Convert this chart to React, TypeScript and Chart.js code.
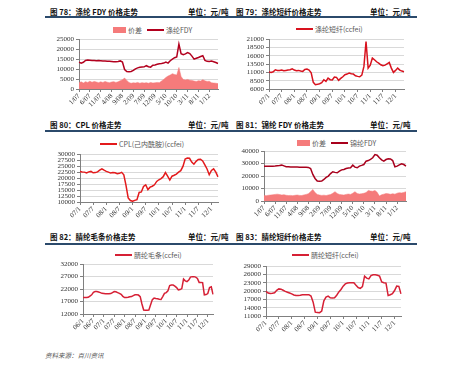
import React, { useEffect, useRef } from "react";
import { Chart, registerables } from "chart.js";

Chart.register(...registerables);

// ---------- category helpers (month labels) ----------
function monthsMY(startYear: number, count: number): string[] {
  const out: string[] = [];
  for (let i = 0; i < count; i++) {
    const y = startYear + Math.floor(i / 12);
    const m = (i % 12) + 1;
    out.push(`${m}/${String(y % 100).padStart(2, "0")}`);
  }
  return out;
}
function monthsYM(startYear: number, count: number): string[] {
  const out: string[] = [];
  for (let i = 0; i < count; i++) {
    const y = startYear + Math.floor(i / 12);
    const m = (i % 12) + 1;
    out.push(`${String(y % 100).padStart(2, "0")}/${m}`);
  }
  return out;
}

// ---------- tick labels shown ----------
const FDY_TICKS = ["1/07", "6/07", "11/07", "4/08", "9/08", "2/09", "7/09", "12/09", "5/10", "10/10", "3/11", "8/11", "1/12"];
const YM_TICKS = ["07/1", "07/7", "08/1", "08/7", "09/1", "09/7", "10/1", "10/7", "11/1", "11/7", "12/1"];
const WOOL_TICKS = ["06/1", "06/7", "07/1", "07/7", "08/1", "08/7", "09/1", "09/7", "10/1", "10/7", "11/1", "11/7", "12/1"];

// ---------- categories ----------
const CAT_FDY = monthsMY(2007, 65); // 1/07 .. 5/12
const CAT_PSF = monthsYM(2007, 65); // 07/1 .. 12/5
const CAT_CPL = monthsYM(2007, 64);
const CAT_NYLON = monthsMY(2007, 65);
const CAT_TOP = monthsYM(2006, 76); // 06/1 .. 12/4
const CAT_ACRY = monthsYM(2007, 64);

// ---------- series ----------
const FDY_PRICE = [13500, 13000, 13400, 14300, 14500, 14400, 14300, 14300, 14200, 14300, 14200, 14100, 14000, 13900, 13900, 13800, 13700, 13700, 13800, 14100, 13500, 9800, 8800, 8700, 8800, 9300, 10100, 10600, 10900, 11000, 11100, 11700, 11200, 11000, 11900, 12100, 12400, 12700, 12800, 13000, 13500, 13000, 14200, 15000, 15700, 16100, 22500, 17700, 17200, 17600, 18300, 17800, 16500, 15000, 15400, 15800, 16300, 16700, 14400, 13900, 13800, 14000, 13700, 13300, 12800];
const FDY_SPREAD = [3200, 3600, 3000, 3700, 3300, 3900, 3400, 3800, 3500, 3200, 3600, 3300, 3800, 3400, 3200, 3500, 3700, 3300, 3600, 4200, 4700, 5500, 4300, 3300, 2900, 3100, 3000, 3300, 2900, 3200, 3000, 3200, 2900, 3300, 3000, 3100, 3300, 3200, 4000, 4800, 5800, 6500, 7000, 7700, 7300, 7000, 10800, 6300, 4800, 4500, 4800, 4400, 4300, 4000, 3800, 4200, 4000, 4700, 4100, 3800, 3900, 3100, 3000, 2900, 2700];

const PSF_PRICE = [11100, 11000, 11200, 11800, 11600, 11600, 11700, 11500, 11600, 11700, 11800, 12100, 11700, 11500, 11600, 11400, 11300, 11900, 12000, 11700, 10900, 8000, 7300, 7400, 7600, 7900, 8800, 8300, 9300, 8800, 8700, 9600, 9500, 8600, 9200, 9700, 10300, 10500, 10800, 10600, 10500, 10000, 9800, 9700, 10200, 12800, 20300, 12300, 13200, 15300, 14800, 14200, 13800, 13300, 13000, 13200, 13600, 14000, 12300, 11000, 11600, 12300, 11700, 11400, 11200];

const CPL_PRICE = [22800, 22600, 22500, 22200, 22600, 22800, 22200, 22300, 22600, 23300, 23900, 23300, 22800, 22500, 22100, 22300, 22200, 21800, 22000, 22400, 21400, 17000, 11700, 10600, 10300, 10700, 11000, 14000, 14200, 16500, 17200, 15200, 16200, 16600, 17200, 18600, 19300, 19800, 20600, 22300, 20800, 19200, 20800, 21200, 21700, 22500, 23100, 24900, 28000, 28400, 28300, 26700, 25800, 27000, 27800, 27900, 27200, 25500, 23800, 21400, 23200, 23900, 22500, 20500];

const NYLON_PRICE = [28000, 28000, 28000, 28000, 28000, 28100, 28300, 28500, 28800, 28200, 27600, 27500, 27400, 27300, 27300, 27300, 27200, 27200, 27200, 27100, 27000, 26100, 21300, 18100, 16000, 15800, 16000, 17300, 19000, 20000, 22000, 23500, 23000, 22700, 24000, 25000, 25300, 26100, 26500, 26700, 28800, 27200, 26700, 28000, 28600, 29300, 32000, 32500, 33500, 34700, 37300, 36800, 34700, 33000, 32000, 33300, 33900, 33800, 32500, 27500, 28000, 29000, 29900, 29300, 28000];
const NYLON_SPREAD = [4500, 4300, 4600, 4800, 5000, 5300, 5500, 5200, 4800, 5100, 4600, 4400, 4500, 4300, 4600, 4800, 4500, 4400, 4900, 5300, 5900, 7500, 9300, 6800, 5300, 4800, 4500, 4700, 4400, 4900, 5200, 6200, 7500, 6000, 5300, 5000, 4800, 5300, 5600, 5300, 6200, 7500, 6000, 5600, 5900, 6200, 6800, 8500, 8000, 7800, 8500, 7000, 4000, 5000, 5500, 6000, 5800, 5400, 5900, 5500, 6300, 6700, 6500, 6900, 7500];

const TOP_PRICE = [18600, 18600, 18600, 18700, 19200, 19700, 20700, 21000, 21000, 20800, 20600, 20300, 20200, 20100, 20100, 20100, 20200, 20600, 21000, 20900, 20600, 20300, 19900, 19100, 18600, 18600, 18700, 18900, 19000, 19400, 19700, 19700, 19600, 19000, 16000, 13600, 13500, 13500, 13600, 15700, 17800, 18400, 18200, 18100, 17900, 17800, 19000, 20300, 20600, 21300, 23400, 23600, 23600, 23200, 22600, 21700, 21800, 22200, 26000, 25300, 25000, 25600, 26800, 27000, 27000, 26800, 26300, 24700, 24700, 24600, 19700, 19800, 20200, 22600, 22900, 19900];

const ACRY_PRICE = [19900, 19300, 19100, 19200, 19400, 20300, 20800, 20700, 20300, 19900, 19600, 19300, 19000, 18600, 18400, 18400, 18500, 18700, 18700, 18700, 18700, 18200, 16000, 12400, 12300, 12200, 12800, 16500, 17800, 18200, 17600, 17500, 17600, 18500, 19700, 20600, 21800, 22600, 22900, 23000, 23000, 23000, 22100, 21300, 21000, 21600, 25400, 24700, 24400, 25600, 25900, 25900, 25700, 25400, 23300, 23000, 22900, 18400, 18700, 19100, 20200, 21800, 21700, 19000];

// ---------- styling ----------
const SPREAD_COLOR = "#F57B7B";
const TICK_FONT = { family: "'Liberation Serif', 'DejaVu Serif', serif", size: 7 };
const CJK = "'Noto Sans CJK SC', 'Noto Sans', sans-serif";

type Geo = { left: number; top: number; width: number; height: number; yw: number };

function PanelChart(props: {
  geo: Geo;
  labels: string[];
  shown: string[];
  datasets: any[];
  yMin: number;
  yMax: number;
  yStep: number;
}) {
  const ref = useRef<HTMLCanvasElement>(null);
  const { geo, labels, shown, datasets, yMin, yMax, yStep } = props;
  useEffect(() => {
    const chart = new Chart(ref.current as HTMLCanvasElement, {
      type: "line",
      data: { labels, datasets },
      options: {
        animation: false,
        responsive: false,
        maintainAspectRatio: false,
        layout: { padding: { top: 6, right: 2, left: 0, bottom: 0 } },
        plugins: { legend: { display: false }, tooltip: { enabled: false } },
        elements: { point: { radius: 0 }, line: { tension: 0 } },
        scales: {
          x: {
            type: "category",
            offset: false,
            grid: { drawOnChartArea: false, drawTicks: true, tickLength: 3, color: "#808080" },
            border: { color: "#808080" },
            ticks: {
              autoSkip: false,
              minRotation: 45,
              maxRotation: 45,
              padding: 0,
              font: TICK_FONT,
              color: "#333333",
              callback: (_v: any, i: number) => (shown.includes(labels[i]) ? labels[i] : null),
            },
            afterFit: (s: any) => {
              s.height = 28;
            },
          },
          y: {
            min: yMin,
            max: yMax,
            ticks: {
              stepSize: yStep,
              autoSkip: false,
              padding: 2,
              font: TICK_FONT,
              color: "#333333",
              callback: (v: any) => String(v),
            },
            grid: { color: "#D9D9D9", tickLength: 3, tickColor: "#808080" },
            border: { color: "#808080" },
            afterFit: (s: any) => {
              s.width = geo.yw;
            },
          },
        },
      } as any,
    });
    return () => chart.destroy();
  }, []);
  return (
    <canvas
      ref={ref}
      width={geo.width}
      height={geo.height}
      style={{ position: "absolute", left: geo.left, top: geo.top, width: geo.width, height: geo.height }}
    />
  );
}

type LegendItem = { kind: "box" | "line"; color: string; text: string };

function Legend({ left, top, items }: { left: number; top: number; items: LegendItem[] }) {
  return (
    <div
      style={{
        position: "absolute",
        left,
        top: top - 5,
        height: 10,
        display: "flex",
        alignItems: "center",
        fontFamily: CJK,
        fontSize: 7,
        color: "#595959",
        whiteSpace: "nowrap",
      }}
    >
      {items.map((it, i) => (
        <div key={i} style={{ display: "flex", alignItems: "center", marginRight: 5 }}>
          {it.kind === "box" ? (
            <div style={{ width: 13, height: 6, background: it.color, marginRight: 2 }} />
          ) : (
            <div style={{ width: 17, height: 2, background: it.color, marginRight: 2 }} />
          )}
          <span>{it.text}</span>
        </div>
      ))}
    </div>
  );
}

function Title({ left, top, text }: { left: number; top: number; text: string }) {
  return (
    <div
      style={{
        position: "absolute",
        left,
        top: top - 5,
        height: 10,
        lineHeight: "10px",
        fontFamily: CJK,
        fontWeight: 700,
        fontSize: 7.5,
        color: "#111111",
        whiteSpace: "nowrap",
      }}
    >
      {text}
    </div>
  );
}

function Rule({ top }: { top: number }) {
  return <div style={{ position: "absolute", left: 45, top: top - 1, width: 372, height: 2, background: "#2B4A6B" }} />;
}

function lineDs(label: string, data: number[], color: string) {
  return { label, data, borderColor: color, backgroundColor: color, borderWidth: 1.5, fill: false, pointRadius: 0, order: 0 };
}
function areaDs(label: string, data: number[]) {
  return {
    label,
    data,
    borderColor: SPREAD_COLOR,
    backgroundColor: SPREAD_COLOR,
    borderWidth: 0.5,
    fill: "origin",
    pointRadius: 0,
    order: 1,
  };
}

export default function App() {
  return (
    <div style={{ position: "absolute", left: 0, top: 0, width: 474, height: 366, background: "#ffffff", overflow: "hidden" }}>
      {/* Row 1 */}
      <Title left={50} top={12} text="图 78：涤纶 FDY 价格走势" />
      <Title left={188} top={12} text="单位：元/吨" />
      <Title left={236} top={12} text="图 79：涤纶短纤价格走势" />
      <Title left={370} top={12} text="单位：元/吨" />
      <Rule top={17} />

      <Legend
        left={113}
        top={30}
        items={[
          { kind: "box", color: SPREAD_COLOR, text: "价差" },
          { kind: "line", color: "#B2001E", text: "涤纶FDY" },
        ]}
      />
      <PanelChart
        geo={{ left: 40, top: 33, width: 180, height: 84, yw: 39 }}
        labels={CAT_FDY}
        shown={FDY_TICKS}
        datasets={[areaDs("价差", FDY_SPREAD), lineDs("涤纶FDY", FDY_PRICE, "#B2001E")]}
        yMin={0}
        yMax={25000}
        yStep={5000}
      />

      <Legend left={296} top={29} items={[{ kind: "line", color: "#D8121E", text: "涤纶短纤(ccfei)" }]} />
      <PanelChart
        geo={{ left: 230, top: 33, width: 176, height: 84, yw: 39 }}
        labels={CAT_PSF}
        shown={YM_TICKS}
        datasets={[lineDs("涤纶短纤(ccfei)", PSF_PRICE, "#D8121E")]}
        yMin={6000}
        yMax={21000}
        yStep={2500}
      />

      {/* Row 2 */}
      <Title left={50} top={125} text="图 80：CPL 价格走势" />
      <Title left={188} top={125} text="单位：元/吨" />
      <Title left={236} top={125} text="图 81：锦纶 FDY 价格走势" />
      <Title left={370} top={125} text="单位：元/吨" />
      <Rule top={131} />

      <Legend left={100} top={144} items={[{ kind: "line", color: "#E31A1C", text: "CPL(己内酰胺)(ccfei)" }]} />
      <PanelChart
        geo={{ left: 40, top: 148, width: 180, height: 82, yw: 40 }}
        labels={CAT_CPL}
        shown={YM_TICKS}
        datasets={[lineDs("CPL(己内酰胺)(ccfei)", CPL_PRICE, "#E31A1C")]}
        yMin={10000}
        yMax={30000}
        yStep={2500}
      />

      <Legend
        left={297}
        top={143}
        items={[
          { kind: "box", color: SPREAD_COLOR, text: "价差" },
          { kind: "line", color: "#A8001C", text: "锦纶FDY" },
        ]}
      />
      <PanelChart
        geo={{ left: 225, top: 145, width: 183, height: 84, yw: 39 }}
        labels={CAT_NYLON}
        shown={FDY_TICKS}
        datasets={[areaDs("价差", NYLON_SPREAD), lineDs("锦纶FDY", NYLON_PRICE, "#A8001C")]}
        yMin={0}
        yMax={40000}
        yStep={10000}
      />

      {/* Row 3 */}
      <Title left={50} top={237} text="图 82：腈纶毛条价格走势" />
      <Title left={188} top={237} text="单位：元/吨" />
      <Title left={236} top={237} text="图 83：腈纶短纤价格走势" />
      <Title left={370} top={237} text="单位：元/吨" />
      <Rule top={244} />

      <Legend left={115} top={255} items={[{ kind: "line", color: "#D62035", text: "腈纶毛条(ccfei)" }]} />
      <PanelChart
        geo={{ left: 44, top: 258, width: 171, height: 84, yw: 39 }}
        labels={CAT_TOP}
        shown={WOOL_TICKS}
        datasets={[lineDs("腈纶毛条(ccfei)", TOP_PRICE, "#D62035")]}
        yMin={12000}
        yMax={32000}
        yStep={5000}
      />

      <Legend left={292} top={255} items={[{ kind: "line", color: "#D62035", text: "腈纶短纤(ccfei)" }]} />
      <PanelChart
        geo={{ left: 227, top: 260, width: 176, height: 84, yw: 39 }}
        labels={CAT_ACRY}
        shown={YM_TICKS}
        datasets={[lineDs("腈纶短纤(ccfei)", ACRY_PRICE, "#D62035")]}
        yMin={11000}
        yMax={29000}
        yStep={3000}
      />

      <div
        style={{
          position: "absolute",
          left: 45,
          top: 350,
          fontFamily: CJK,
          fontStyle: "italic",
          fontSize: 6.5,
          color: "#555555",
          whiteSpace: "nowrap",
        }}
      >
        资料来源：百川资讯
      </div>
    </div>
  );
}
